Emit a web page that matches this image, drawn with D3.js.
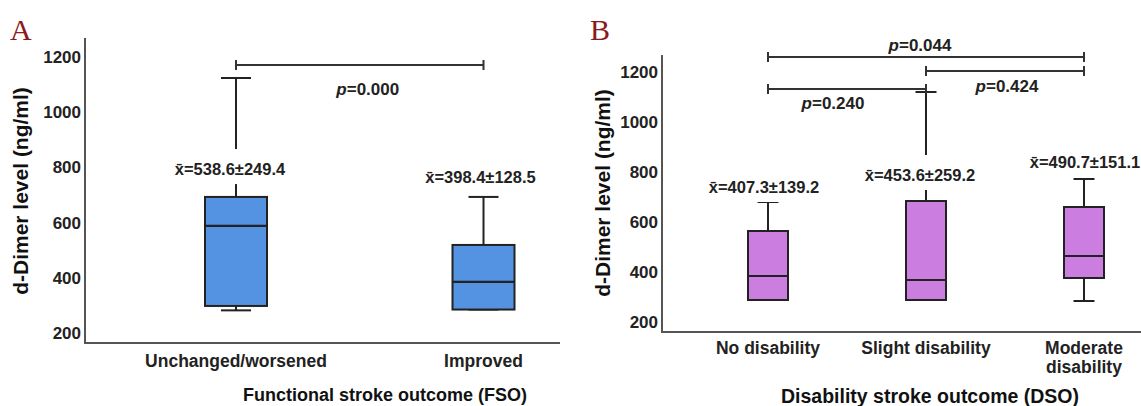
<!DOCTYPE html>
<html>
<head>
<meta charset="utf-8">
<script src="https://cdn.jsdelivr.net/npm/d3@7"></script>
<style>
  body { margin: 0; background: #fff; }
  svg text { font-family: "Liberation Sans", Arial, sans-serif; }
</style>
</head>
<body>
<svg id="chart" width="1141" height="406"></svg>
<script>
// panel A: functional stroke outcome
var fsoGroups = [["Unchanged/worsened"], ["Improved"]];
var fsoMin    = [282, 285];
var fsoQ1     = [298, 285];
var fsoMedian = [588, 385];
var fsoQ3     = [693, 519];
var fsoMax    = [1124, 693];
var fsoMean   = ["538.6", "398.4"];
var fsoSd     = ["249.4", "128.5"];
var fsoPairs  = [[0, 1]];
var fsoP      = ["0.000"];

// panel B: disability stroke outcome
var dsoGroups = [["No disability"], ["Slight disability"], ["Moderate", "disability"]];
var dsoMin    = [288, 288, 284];
var dsoQ1     = [288, 288, 376];
var dsoMedian = [384, 368, 464];
var dsoQ3     = [564, 684, 660];
var dsoMax    = [680, 1120, 772];
var dsoMean   = ["407.3", "453.6", "490.7"];
var dsoSd     = ["139.2", "259.2", "151.1"];
var dsoPairs  = [[0, 2], [1, 2], [0, 1]];
var dsoP      = ["0.044", "0.424", "0.240"];

var yTicks = [200, 400, 600, 800, 1000, 1200];

var svg = d3.select("#chart");
var annoFont = "'Noto Sans', 'Open Sans', sans-serif";

function drawPanel(cfg) {
    var g = svg.append("g");
    var y = d3.scaleLinear().domain([200, 1200]).range([cfg.y200, cfg.y1200]);
    var x = d3.scalePoint().domain(d3.range(cfg.groups.length)).range([cfg.xFirst, cfg.xLast]);

    // y tick labels (no tick marks in the original)
    g.append("g")
        .attr("transform", `translate(${cfg.left - 4},0)`)
        .call(d3.axisLeft(y).tickValues(yTicks).tickFormat(d3.format("d")).tickSize(0).tickPadding(0))
        .call(a => a.select(".domain").remove())
        .attr("font-size", 17)
        .attr("font-weight", "bold")
        .attr("font-family", "'Liberation Sans', Arial, sans-serif")
        .selectAll("text").attr("fill", "#222");

    // axis frame
    g.append("path")
        .attr("d", `M${cfg.left},${cfg.top}V${cfg.bottom}H${cfg.right}`)
        .attr("fill", "none")
        .attr("stroke", "#555")
        .attr("stroke-width", 2);

    // category labels
    cfg.groups.forEach((lines, i) => {
        var t = g.append("text")
            .attr("x", x(i))
            .attr("y", cfg.catY)
            .attr("text-anchor", "middle")
            .attr("font-size", 17.5)
            .attr("font-weight", "bold")
            .attr("fill", "#222");
        lines.forEach((ln, k) => {
            t.append("tspan").attr("x", x(i)).attr("dy", k == 0 ? "0.35em" : "1.05em").text(ln);
        });
    });

    // axis titles
    g.append("text")
        .attr("x", cfg.titleX).attr("y", cfg.titleY).attr("dy", "0.35em")
        .attr("text-anchor", "middle")
        .attr("font-size", cfg.titleSize).attr("font-weight", "bold")
        .attr("fill", "#111")
        .text(cfg.title);
    g.append("text")
        .attr("transform", `translate(${cfg.yTitleX},${cfg.yTitleY}) rotate(-90)`)
        .attr("dy", "0.35em")
        .attr("text-anchor", "middle")
        .attr("font-size", 21).attr("font-weight", "bold")
        .attr("fill", "#111")
        .text("d-Dimer level (ng/ml)");

    // panel letter
    g.append("text")
        .attr("x", cfg.letterX).attr("y", 40)
        .attr("font-size", 30)
        .attr("fill", "#8b1a1a")
        .style("font-family", "'Liberation Serif', serif")
        .text(cfg.letter);

    var idx = d3.range(cfg.groups.length);
    var stroke = "#222";

    // whiskers + caps
    idx.forEach(i => {
        var cx = x(i);
        g.append("line").attr("x1", cx).attr("x2", cx)
            .attr("y1", y(cfg.max[i])).attr("y2", y(cfg.q3[i]))
            .attr("stroke", stroke).attr("stroke-width", 2);
        g.append("line").attr("x1", cx).attr("x2", cx)
            .attr("y1", y(cfg.q1[i])).attr("y2", y(cfg.min[i]))
            .attr("stroke", stroke).attr("stroke-width", 2);
        [cfg.max[i], cfg.min[i]].forEach(v => {
            g.append("line")
                .attr("x1", cx - cfg.capW / 2).attr("x2", cx + cfg.capW / 2)
                .attr("y1", y(v)).attr("y2", y(v))
                .attr("stroke", stroke).attr("stroke-width", 2);
        });
    });

    // mean ± sd labels, sitting on a white patch that hides the whisker
    idx.forEach(i => {
        var ly = y(cfg.labelAt[i]);
        var lx = x(i) + cfg.labelDx[i];
        var bg = g.append("rect").attr("fill", "#fff");
        var t = g.append("text")
            .attr("x", lx).attr("y", ly).attr("dy", "0.35em")
            .attr("text-anchor", "middle")
            .attr("font-family", annoFont)
            .attr("font-size", 16.5).attr("font-weight", "bold")
            .attr("fill", "#222")
            .text("x\u0304=" + cfg.mean[i] + "\u00b1" + cfg.sd[i]);
        var bb = t.node().getBBox();
        bg.attr("x", bb.x - 2).attr("width", bb.width + 4)
            .attr("y", ly - 20).attr("height", 35);
    });

    // boxes
    idx.forEach(i => {
        var cx = x(i);
        g.append("rect")
            .attr("x", cx - cfg.boxW / 2).attr("width", cfg.boxW)
            .attr("y", y(cfg.q3[i])).attr("height", y(cfg.q1[i]) - y(cfg.q3[i]))
            .attr("fill", cfg.fill)
            .attr("stroke", stroke).attr("stroke-width", 2);
        g.append("line")
            .attr("x1", cx - cfg.boxW / 2).attr("x2", cx + cfg.boxW / 2)
            .attr("y1", y(cfg.median[i])).attr("y2", y(cfg.median[i]))
            .attr("stroke", stroke).attr("stroke-width", 2.2);
    });

    // significance brackets
    cfg.pairs.forEach((pr, k) => {
        var by = y(cfg.bracketAt[k]);
        var x1 = x(pr[0]), x2 = x(pr[1]);
        g.append("path")
            .attr("d", `M${x1},${by - 5}V${by + 5}M${x1},${by}H${x2}M${x2},${by - 5}V${by + 5}`)
            .attr("fill", "none")
            .attr("stroke", "#333").attr("stroke-width", 2);
        var t = g.append("text")
            .attr("x", (x1 + x2) / 2 + cfg.pDx[k])
            .attr("y", by + cfg.pDy[k]).attr("dy", "0.35em")
            .attr("text-anchor", "middle")
            .attr("font-family", annoFont)
            .attr("font-size", 17).attr("font-weight", "bold")
            .attr("fill", "#222");
        t.append("tspan").attr("font-style", "italic").text("p");
        t.append("tspan").text("=" + cfg.p[k]);
    });
}

drawPanel({
    groups: fsoGroups, min: fsoMin, q1: fsoQ1, median: fsoMedian, q3: fsoQ3, max: fsoMax,
    mean: fsoMean, sd: fsoSd, pairs: fsoPairs, p: fsoP,
    left: 85, top: 38, bottom: 343, right: 560,
    y200: 333, y1200: 57,
    xFirst: 236, xLast: 483.5,
    boxW: 62, capW: 30, fill: "#5393e2",
    labelAt: [794, 765], labelDx: [-6, -3],
    bracketAt: [1171], pDx: [8], pDy: [24],
    catY: 361,
    title: "Functional stroke outcome (FSO)", titleX: 385, titleY: 395, titleSize: 18,
    yTitleX: 21, yTitleY: 191,
    letter: "A", letterX: 10
});

drawPanel({
    groups: dsoGroups, min: dsoMin, q1: dsoQ1, median: dsoMedian, q3: dsoQ3, max: dsoMax,
    mean: dsoMean, sd: dsoSd, pairs: dsoPairs, p: dsoP,
    left: 662, top: 55, bottom: 332, right: 1141,
    y200: 322, y1200: 72,
    xFirst: 768, xLast: 1084,
    boxW: 40, capW: 21, fill: "#cb7ee0",
    labelAt: [740, 788, 840], labelDx: [-4, -6, 1],
    bracketAt: [1260, 1204, 1132], pDx: [-6, 2, -14], pDy: [-12, 15, 14],
    catY: 348,
    title: "Disability stroke outcome (DSO)", titleX: 930, titleY: 396, titleSize: 19.5,
    yTitleX: 603, yTitleY: 193,
    letter: "B", letterX: 590
});
</script>
</body>
</html>
